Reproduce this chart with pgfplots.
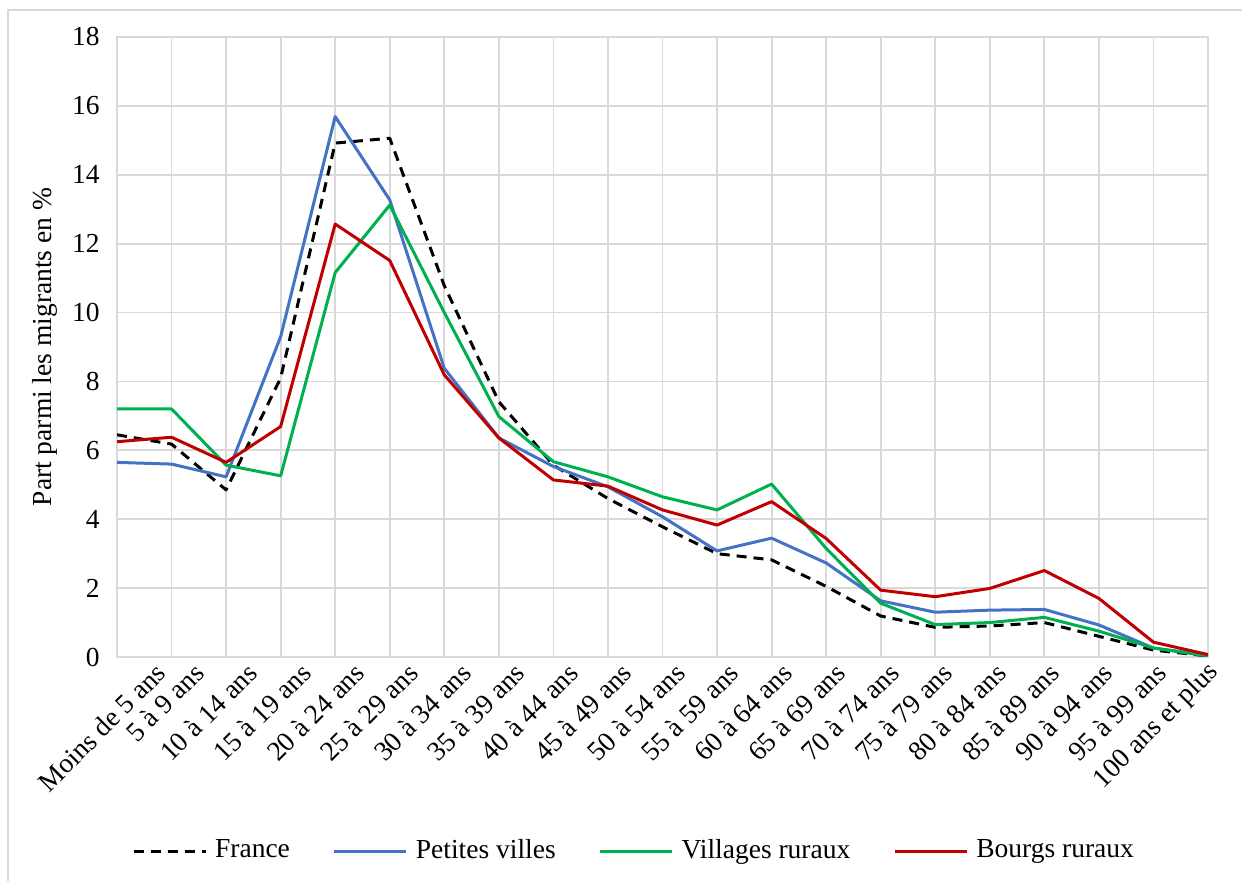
\documentclass[border=0pt]{standalone}
\usepackage{fontspec}
\setmainfont{Liberation Serif}
\usepackage{pgfplots}
\usepackage{pgfplotstable}
\pgfplotsset{compat=1.18}
\definecolor{gridgray}{RGB}{217,217,217}
\definecolor{cblue}{RGB}{68,114,196}
\definecolor{cgreen}{RGB}{0,176,80}
\definecolor{cred}{RGB}{192,0,0}
\pgfplotstableread{
x France Petites Villages Bourgs
0 6.45 5.65 7.2 6.25
1 6.18 5.6 7.2 6.38
2 4.85 5.23 5.57 5.65
3 8.1 9.3 5.26 6.69
4 14.92 15.69 11.16 12.57
5 15.06 13.27 13.12 11.51
6 10.78 8.38 10.0 8.19
7 7.41 6.36 6.98 6.36
8 5.57 5.53 5.67 5.14
9 4.6 4.94 5.23 4.96
10 3.78 4.07 4.65 4.27
11 3.0 3.08 4.27 3.83
12 2.82 3.45 5.02 4.51
13 2.05 2.73 3.15 3.44
14 1.19 1.63 1.56 1.94
15 0.86 1.3 0.94 1.75
16 0.9 1.36 1.0 1.99
17 1.0 1.38 1.15 2.51
18 0.6 0.93 0.75 1.7
19 0.2 0.26 0.26 0.43
20 0.03 0.05 0.03 0.07
}\datatable
\begin{document}
\fontsize{13.75}{16}\selectfont
\begin{tikzpicture}
\useasboundingbox (0,0) rectangle (621pt,440.5pt);
\draw[gridgray, line width=0.8pt] (4pt,-1pt) -- (4pt,435.5pt) -- (622pt,435.5pt);
\begin{axis}[
 at={(58.5pt,112pt)}, anchor=south west, scale only axis,
 width=545.5pt, height=310pt,
 xmin=0, xmax=20, ymin=0, ymax=18,
 xtick={0,...,20},
 xticklabels={Moins de 5 ans,5 à 9 ans,10 à 14 ans,15 à 19 ans,20 à 24 ans,25 à 29 ans,30 à 34 ans,35 à 39 ans,40 à 44 ans,45 à 49 ans,50 à 54 ans,55 à 59 ans,60 à 64 ans,65 à 69 ans,70 à 74 ans,75 à 79 ans,80 à 84 ans,85 à 89 ans,90 à 94 ans,95 à 99 ans,100 ans et plus},
 ytick={0,2,...,18},
 grid=major, grid style={gridgray, line width=0.9pt},
 axis line style={gridgray, line width=0.9pt},
 major tick length=0pt,
 /pgf/number format/assume math mode=true,
 yticklabel style={inner sep=0pt, xshift=-8.5pt, anchor=east},
 xticklabel style={inner sep=0pt, xshift={(14.5-0.55*\ticknum+7.5*(\ticknum==0))*1pt}, yshift=-5.5pt, rotate=45, anchor=east},
 ylabel={Part parmi les migrants en \%},
 every axis y label/.style={at={(rel axis cs:0,0.5)}, xshift=-36pt, rotate=90, anchor=center},
 legend columns=4,
 legend style={at={(rel axis cs:0.473,-0.313)}, anchor=center, draw=none, fill=none, inner sep=0pt,
   nodes={inner sep=0pt},
   /tikz/every odd column/.append style={column sep=4pt},
   /tikz/every even column/.append style={column sep=21.5pt}},
 legend image code/.code={\draw[#1] (0pt,0pt) -- (36pt,0pt);},
 every axis plot/.append style={line width=1.5pt, line join=round},
]
\addplot[black, dash pattern=on 5pt off 3.5pt] table[x=x, y=France] {\datatable};
\addlegendentry{France}
\addplot[cblue] table[x=x, y=Petites] {\datatable};
\addlegendentry{Petites villes}
\addplot[cgreen] table[x=x, y=Villages] {\datatable};
\addlegendentry{Villages ruraux}
\addplot[cred] table[x=x, y=Bourgs] {\datatable};
\addlegendentry{Bourgs ruraux}
\end{axis}
\end{tikzpicture}
\end{document}
